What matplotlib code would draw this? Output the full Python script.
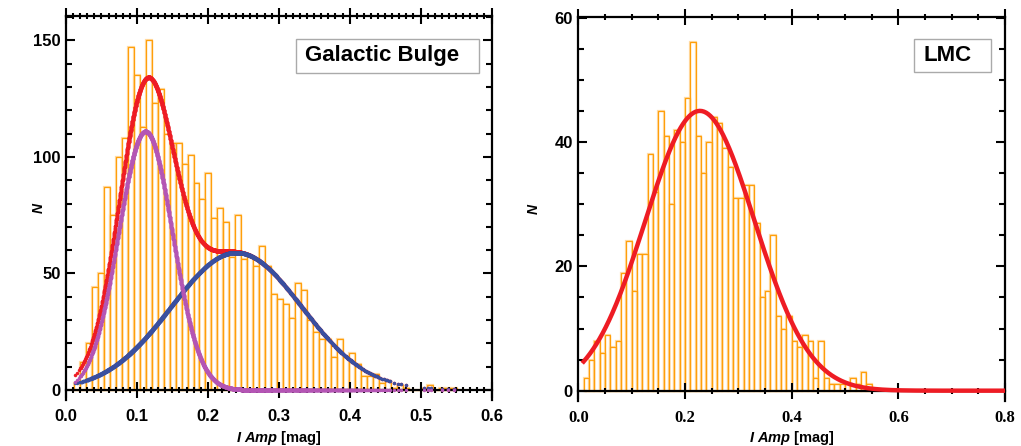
import numpy as np
import matplotlib
matplotlib.use("Agg")
import matplotlib.pyplot as plt
from matplotlib.patches import Rectangle
from matplotlib.ticker import MultipleLocator

plt.rcParams['font.family'] = ['Liberation Sans', 'DejaVu Sans']
plt.rcParams['mathtext.fontset'] = 'custom'
plt.rcParams['mathtext.it'] = 'Liberation Sans:italic:bold'
plt.rcParams['mathtext.rm'] = 'Liberation Sans:bold'

# Galactic Bulge histogram (I amplitude, mag)
bulge_start = 0.0112
bulge_bin = 0.00843
bulge_counts = [3, 12, 20, 44, 50, 87, 75, 100, 108, 147, 135, 113, 150, 123, 129,
                110, 106, 106, 97, 101, 89, 82, 93, 74, 78, 72, 57, 75, 56, 57,
                53, 62, 53, 41, 39, 37, 31, 46, 43, 30, 25, 22, 22, 14, 22,
                14, 16, 11, 6, 6, 7, 3, 4, 1, 2, 1, 0, 0, 1, 2, 0, 1, 1, 1]
# two-gaussian fit: amplitude, centre, sigma
bulge_g1 = (111.0, 0.112, 0.038)
bulge_g2 = (59.0, 0.240, 0.092)

# LMC histogram
lmc_start = 0.01
lmc_bin = 0.01
lmc_counts = [2, 5, 8, 6, 9, 7, 8, 19, 24, 16, 22, 22, 38, 32, 45, 41, 30, 42,
              40, 47, 56, 41, 35, 40, 44, 43, 39, 36, 31, 31, 33, 33, 27, 15,
              16, 25, 12, 10, 12, 8, 7, 9, 8, 2, 8, 2, 1, 1, 1, 1, 2, 1, 3, 1]
lmc_fit = (45.0, 0.228, 0.1025)

ORANGE = '#ff9f0a'
PALE = '#ffdca8'


def gauss(x, p):
    a, m, s = p
    return a * np.exp(-(x - m) ** 2 / (2 * s ** 2))


def style_axes(ax):
    for s in ax.spines.values():
        s.set_linewidth(1.6)
    ax.spines['bottom'].set_position(('data', 0))
    ax.tick_params(axis='x', which='both', direction='inout', top=True, bottom=True, width=1.5)
    ax.tick_params(axis='x', which='major', length=12, pad=8)
    ax.tick_params(axis='x', which='minor', length=5)
    ax.tick_params(axis='y', which='both', direction='in', left=True, right=True, width=1.5)
    ax.tick_params(axis='y', which='major', length=6.5, pad=4)
    ax.tick_params(axis='y', which='minor', length=4)
    for lab in ax.get_xticklabels() + ax.get_yticklabels():
        lab.set_fontweight('bold')
        lab.set_fontsize(12)


def draw_hist(ax, start, width, counts):
    edges = start + width * np.arange(len(counts))
    ax.bar(edges, counts, width=width, align='edge', fill=False,
           edgecolor=PALE, linewidth=1.6, zorder=1)
    ax.bar(edges, counts, width=width, align='edge', fill=False,
           edgecolor=ORANGE, linewidth=0.9, zorder=1.2)
    return edges


fig = plt.figure(figsize=(10.21, 4.46), dpi=100)
ax1 = fig.add_axes([66 / 1021, 1 - 400 / 446, 425.5 / 1021, 384 / 446])
ax2 = fig.add_axes([578.3 / 1021, 1 - 401 / 446, 426.7 / 1021, 384 / 446])

# ---- left: Galactic Bulge
edges = draw_hist(ax1, bulge_start, bulge_bin, bulge_counts)
# one point per star, spread through its bin
xs = np.concatenate([lo + bulge_bin * (np.arange(c) + 0.5) / c
                     for lo, c in zip(edges, bulge_counts) if c > 0])
ax1.plot(xs, gauss(xs, bulge_g1) + gauss(xs, bulge_g2), 'o', color='#ee1c24',
         ms=2.5, mew=0, zorder=3)
ax1.plot(xs, gauss(xs, bulge_g2), 'o', color='#3a4f9f', ms=2.5, mew=0, zorder=4)
ax1.plot(xs, gauss(xs, bulge_g1), 'o', color='#b455b4', ms=2.5, mew=0, zorder=5)

ax1.set_xlim(0, 0.6)
ax1.set_ylim(-4.3, 160.5)
ax1.xaxis.set_major_locator(MultipleLocator(0.1))
ax1.xaxis.set_minor_locator(MultipleLocator(0.01))
ax1.yaxis.set_major_locator(MultipleLocator(50))
ax1.yaxis.set_minor_locator(MultipleLocator(10))
ax1.set_xticks([0, 0.1, 0.2, 0.3, 0.4, 0.5, 0.6])
ax1.set_xticklabels(['0.0', '0.1', '0.2', '0.3', '0.4', '0.5', '0.6'])
style_axes(ax1)
ax1.set_xlabel(r'$\mathit{I\ Amp}$ [mag]', fontsize=10.5, fontweight='bold')
ax1.xaxis.set_label_coords(0.5, -0.076)
ax1.set_ylabel('N', fontsize=10, fontstyle='italic', fontweight='bold')
ax1.yaxis.set_label_coords(-0.047, 0.5)

ax1.add_patch(Rectangle((0.5405, 0.8516), 0.430, 0.0885, transform=ax1.transAxes,
                        fill=False, edgecolor='#aaaaaa', lw=1.0, zorder=6))
ax1.text(0.561, 0.896, 'Galactic Bulge', transform=ax1.transAxes, fontsize=16,
         fontweight='bold', ha='left', va='center', zorder=7)

# ---- right: LMC
draw_hist(ax2, lmc_start, lmc_bin, lmc_counts)
xl = np.linspace(0.01, 0.8, 400)
ax2.plot(xl, gauss(xl, lmc_fit), color='#ee1c24', lw=3.2, zorder=3)

ax2.set_xlim(0, 0.8)
ax2.set_ylim(-1.66, 60.1)
ax2.xaxis.set_major_locator(MultipleLocator(0.2))
ax2.xaxis.set_minor_locator(MultipleLocator(0.05))
ax2.yaxis.set_major_locator(MultipleLocator(20))
ax2.yaxis.set_minor_locator(MultipleLocator(5))
ax2.set_xticks([0, 0.2, 0.4, 0.6, 0.8])
ax2.set_xticklabels(['0.0', '0.2', '0.4', '0.6', '0.8'])
style_axes(ax2)
for lab in ax2.get_xticklabels():
    lab.set_family(['Liberation Serif'])
    lab.set_fontsize(12)
ax2.set_xlabel(r'$\mathit{I\ Amp}$ [mag]', fontsize=10.5, fontweight='bold')
ax2.xaxis.set_label_coords(0.5, -0.074)
ax2.set_ylabel('N', fontsize=10, fontstyle='italic', fontweight='bold')
ax2.yaxis.set_label_coords(-0.087, 0.5)

ax2.add_patch(Rectangle((0.7867, 0.8568), 0.1805, 0.0859, transform=ax2.transAxes,
                        fill=False, edgecolor='#aaaaaa', lw=1.0, zorder=6))
ax2.text(0.808, 0.899, 'LMC', transform=ax2.transAxes, fontsize=16,
         fontweight='bold', ha='left', va='center', zorder=7)

fig.savefig('out.png', dpi=100)
